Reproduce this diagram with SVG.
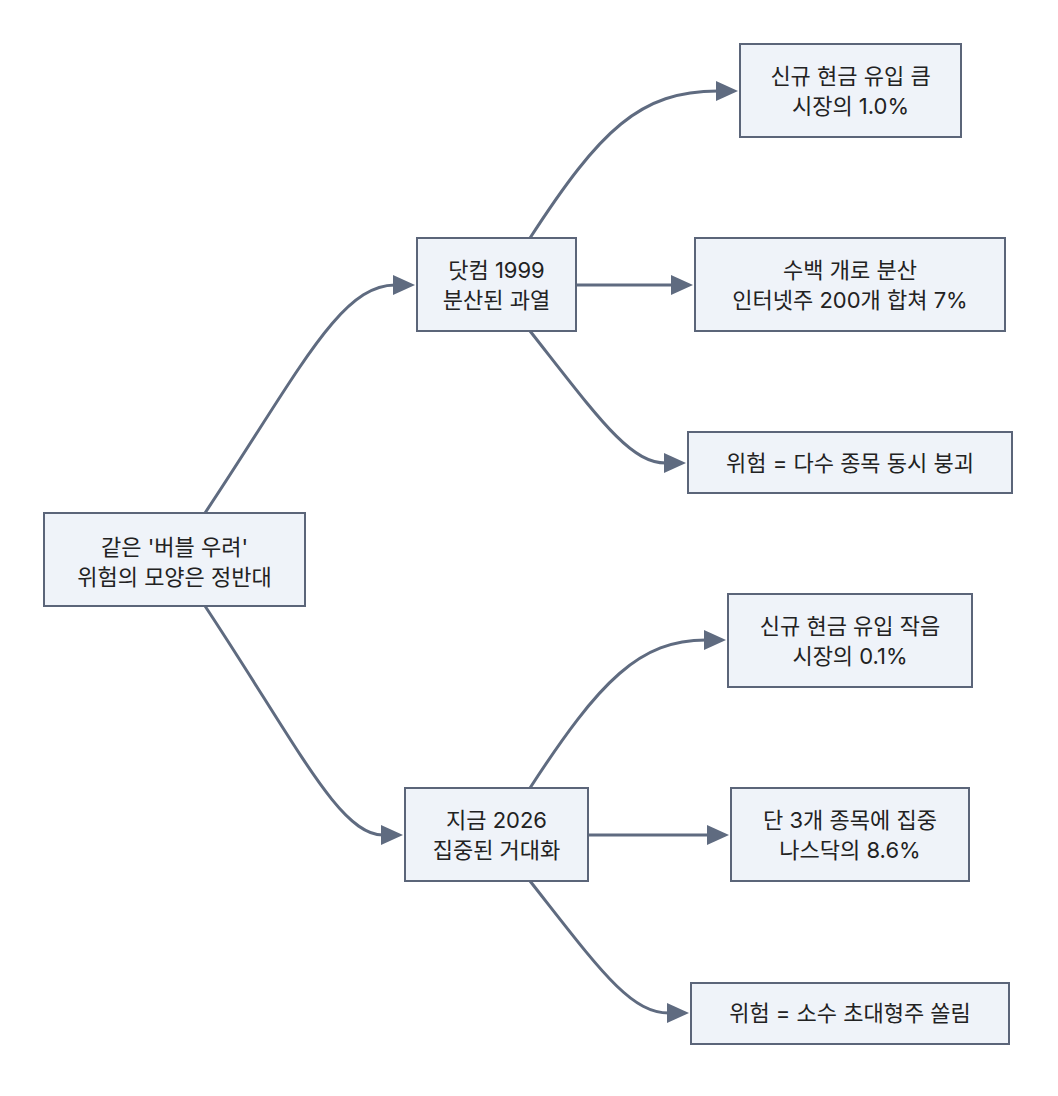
<svg xmlns="http://www.w3.org/2000/svg" width="1058" height="1096" viewBox="0 0 1058 1096">
<style>
.n rect{fill:#eff3f9;stroke:#5b6579;stroke-width:2}
.n text{font-family:Inter,"Noto Sans CJK KR",sans-serif;font-size:22px;fill:#222;text-anchor:middle}
.e path{fill:none;stroke:#5f6b80;stroke-width:3;marker-end:url(#ah)}
</style>
<defs><marker id="ah" markerWidth="10" markerHeight="10" refX="1" refY="5" orient="auto" markerUnits="userSpaceOnUse" viewBox="0 0 10 10"><path d="M0,0L10,5L0,10z" fill="#5f6b80" transform="scale(1)"/></marker>
<marker id="a2" viewBox="0 0 22 20" refX="2" refY="10" markerWidth="22" markerHeight="20" orient="auto" markerUnits="userSpaceOnUse"><path d="M0,0L22,10L0,20z" fill="#5f6b80"/></marker></defs>
<rect width="1058" height="1096" fill="#fff"/>
<g class="e">
<path style="marker-end:url(#a2)" d="M205,513 C300,370 340,285 395,285"/>
<path style="marker-end:url(#a2)" d="M530,238 C600,130 640,91 718,91"/>
<path style="marker-end:url(#a2)" d="M576,285 L673,285"/>
<path style="marker-end:url(#a2)" d="M530,331 C600,420 630,463 666,463"/>
<path style="marker-end:url(#a2)" d="M205,606 C300,750 340,835 383,835"/>
<path style="marker-end:url(#a2)" d="M530,788 C600,680 640,640 706,640"/>
<path style="marker-end:url(#a2)" d="M588,835 L709,835"/>
<path style="marker-end:url(#a2)" d="M530,881 C600,970 630,1013 669,1013"/>
</g>
<g id="root" class="n"><rect x="44" y="513" width="261" height="93"/><text x="174.5" y="555">같은 '버블 우려'</text><text x="174.5" y="585">위험의 모양은 정반대</text></g>
<g id="a" class="n"><rect x="417" y="238" width="159" height="93"/><text x="496.5" y="278">닷컴 1999</text><text x="496.5" y="308">분산된 과열</text></g>
<g id="b" class="n"><rect x="405" y="788" width="183" height="93"/><text x="496.5" y="828">지금 2026</text><text x="496.5" y="858">집중된 거대화</text></g>
<g id="a1" class="n"><rect x="740" y="44" width="221" height="93"/><text x="850.5" y="84">신규 현금 유입 큼</text><text x="850.5" y="114">시장의 1.0%</text></g>
<g id="a2" class="n"><rect x="695" y="238" width="310" height="93"/><text x="850" y="278">수백 개로 분산</text><text x="850" y="308">인터넷주 200개 합쳐 7%</text></g>
<g id="a3" class="n"><rect x="688" y="432" width="324" height="61"/><text x="850" y="471">위험 = 다수 종목 동시 붕괴</text></g>
<g id="b1" class="n"><rect x="728" y="594" width="244" height="93"/><text x="850" y="634">신규 현금 유입 작음</text><text x="850" y="664">시장의 0.1%</text></g>
<g id="b2" class="n"><rect x="731" y="788" width="238" height="93"/><text x="850" y="828">단 3개 종목에 집중</text><text x="850" y="858">나스닥의 8.6%</text></g>
<g id="b3" class="n"><rect x="691" y="983" width="318" height="61"/><text x="850" y="1021">위험 = 소수 초대형주 쏠림</text></g>
</svg>
